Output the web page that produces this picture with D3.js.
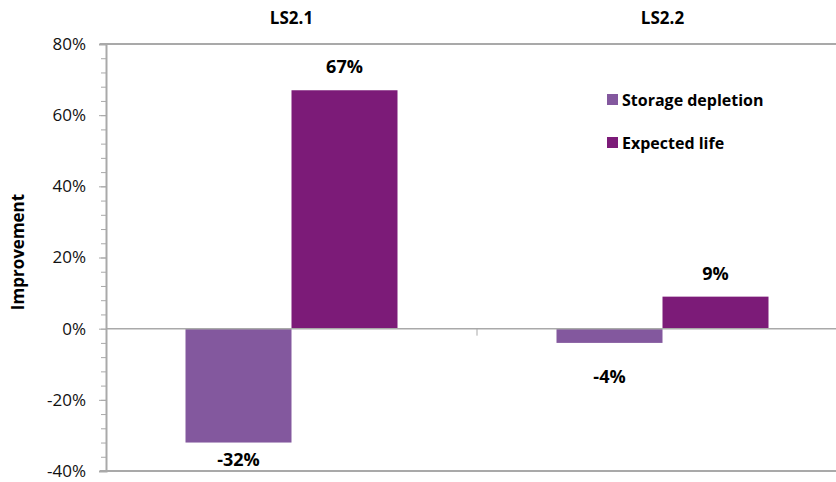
<!DOCTYPE html>
<html>
<head>
<meta charset="utf-8">
<script src="https://cdn.jsdelivr.net/npm/d3@7/dist/d3.min.js"></script>
<style>
  html, body { margin: 0; padding: 0; background: #fff; }
  svg { display: block; font-family: "Open Sans", "Liberation Sans", sans-serif; }
</style>
</head>
<body>
<svg id="chart" width="836" height="482"></svg>
<script>
// Scenarios and the two improvement measures (fractions)
const categories = ["LS2.1", "LS2.2"];
const seriesNames = ["Storage depletion", "Expected life"];
const storageDepletion = [-0.32, -0.04];
const expectedLife = [0.67, 0.09];
const seriesColors = ["#83589e", "#7c1b78"];
const yTickValues = [-0.4, -0.2, 0, 0.2, 0.4, 0.6, 0.8];

const seriesValues = [storageDepletion, expectedLife];

const svg = d3.select("#chart");
const W = 836, H = 482;
const plot = { left: 106, right: 848, top: 44, bottom: 471 };
const axisGray = "#a9a9a9";
const pct = v => d3.format(".0%")(v).replace("\u2212", "-");

const y = d3.scaleLinear().domain([-0.4, 0.8]).range([plot.bottom, plot.top]);
const x0 = d3.scaleBand().domain(categories).range([plot.left, plot.right]).paddingInner(0).paddingOuter(0);
// Gap width of 75%: the bar pair occupies band / 1.75
const groupW = x0.bandwidth() / 1.75;
const x1 = d3.scaleBand().domain(seriesNames).range([0, groupW]);

// Bars
const g = svg.append("g");
seriesNames.forEach((s, si) => {
  g.selectAll(null)
    .data(categories.map((c, ci) => ({ c, v: seriesValues[si][ci] })))
    .enter().append("rect")
    .attr("x", d => x0(d.c) + (x0.bandwidth() - groupW) / 2 + x1(s))
    .attr("y", d => y(Math.max(0, d.v)))
    .attr("width", x1.bandwidth())
    .attr("height", d => Math.abs(y(d.v) - y(0)))
    .attr("fill", seriesColors[si]);
});

// Zero (category) axis with a tick at the category boundary
svg.append("line")
  .attr("x1", plot.left).attr("x2", W)
  .attr("y1", y(0)).attr("y2", y(0))
  .attr("stroke", axisGray).attr("stroke-width", 1.5);
categories.slice(1).forEach(c => {
  svg.append("line")
    .attr("x1", x0(c)).attr("x2", x0(c))
    .attr("y1", y(0)).attr("y2", y(0) + 7)
    .attr("stroke", axisGray).attr("stroke-width", 1);
});

// Top and bottom frame lines
[plot.top, plot.bottom].forEach(yy => {
  svg.append("line")
    .attr("x1", plot.left - 6).attr("x2", W)
    .attr("y1", yy).attr("y2", yy)
    .attr("stroke", axisGray).attr("stroke-width", 2);
});

// Value axis: minor ticks every 4%, labelled major ticks every 20%
const minorTicks = d3.range(-0.4, 0.8001, 0.04);
const yAxisMinor = d3.axisLeft(y).tickValues(minorTicks).tickSize(5).tickFormat("");
svg.append("g").attr("transform", `translate(${plot.left},0)`).call(yAxisMinor)
  .call(a => a.select(".domain").remove())
  .call(a => a.selectAll("line").attr("stroke", axisGray));

const yAxis = d3.axisLeft(y).tickValues(yTickValues).tickSize(7).tickPadding(13)
  .tickFormat(pct);
svg.append("g").attr("transform", `translate(${plot.left},0)`).call(yAxis)
  .call(a => a.select(".domain").attr("stroke", axisGray).attr("stroke-width", 2))
  .call(a => a.selectAll("line").attr("stroke", axisGray))
  .call(a => a.selectAll("text")
    .attr("font-family", "'Open Sans', sans-serif")
    .attr("font-size", 17).attr("fill", "#111"));

// Y axis title
svg.append("text")
  .attr("transform", `translate(24, 252) rotate(-90)`)
  .attr("text-anchor", "middle")
  .attr("font-size", 17).attr("font-weight", "bold").attr("fill", "#000")
  .text("Improvement");

// Category labels above the plot
svg.selectAll(".cat")
  .data(categories).enter().append("text")
  .attr("x", d => x0(d) + x0.bandwidth() / 2)
  .attr("y", 24)
  .attr("text-anchor", "middle")
  .attr("font-size", 17).attr("font-weight", "bold").attr("fill", "#000")
  .text(d => d);

// Data labels
seriesNames.forEach((s, si) => {
  categories.forEach((c, ci) => {
    const v = seriesValues[si][ci];
    const cx = x0(c) + (x0.bandwidth() - groupW) / 2 + x1(s) + x1.bandwidth() / 2;
    const ly = v >= 0 ? y(v) - 17 : Math.max(y(v) + 23, y(0) + 54);
    svg.append("text")
      .attr("x", cx).attr("y", ly)
      .attr("text-anchor", "middle")
      .attr("font-size", 18).attr("font-weight", "bold").attr("fill", "#000")
      .text(pct(v));
  });
});

// Legend
const legend = svg.append("g").attr("transform", "translate(607, 94)");
seriesNames.forEach((s, i) => {
  const row = legend.append("g").attr("transform", `translate(0, ${i * 43})`);
  row.append("rect").attr("width", 11).attr("height", 11).attr("fill", seriesColors[i]);
  row.append("text").attr("x", 15).attr("y", 11.5)
    .attr("font-size", 16).attr("font-weight", "bold").attr("fill", "#000")
    .text(s);
});
</script>
</body>
</html>
